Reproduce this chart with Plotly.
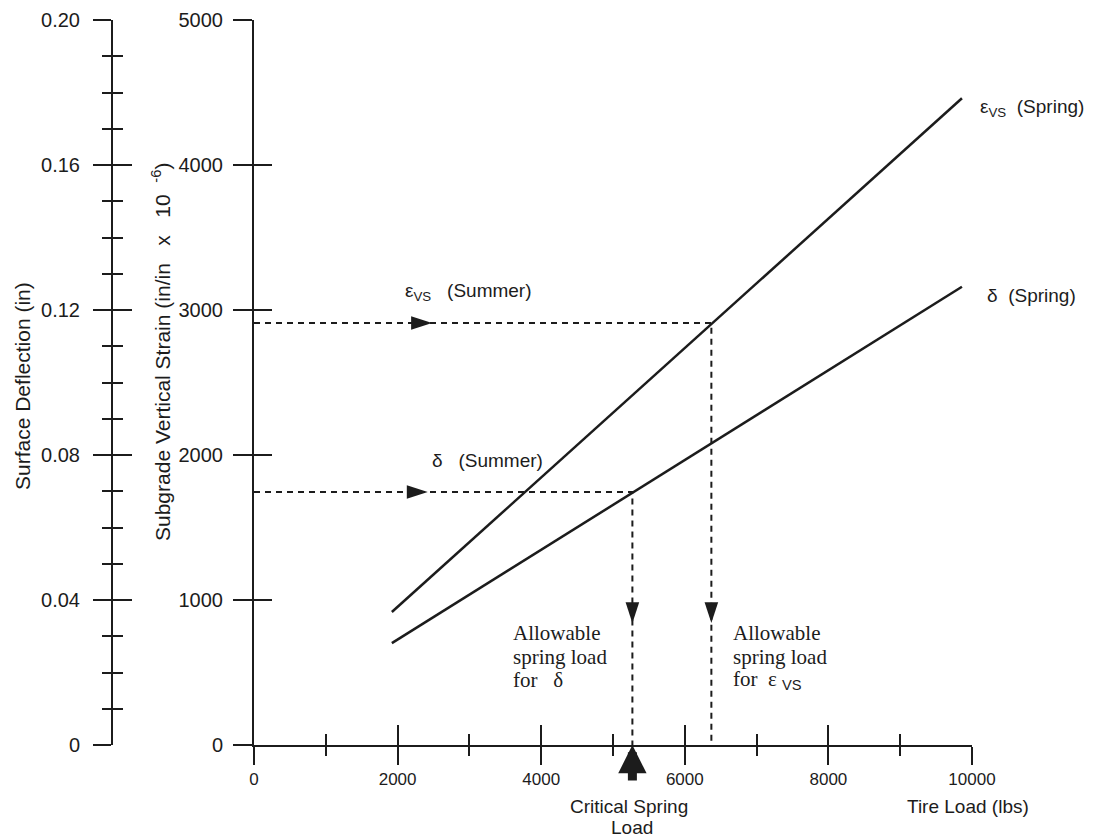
import plotly.graph_objects as go

W, H = 1099, 839
INK = "#1c1c1c"
SANS = "Liberation Sans, Arial, sans-serif"
SERIF = "Liberation Serif, Times New Roman, serif"

# ---------------- data ----------------
load_range = [0, 10000]            # Tire load (lbs)
strain_range = [0, 5000]           # in/in x 1e-6
deflection_range = [0, 0.20]       # in

load_ticks = [0, 2000, 4000, 6000, 8000, 10000]
load_minor_ticks = [1000, 3000, 5000, 7000, 9000]
strain_ticks = [0, 1000, 2000, 3000, 4000, 5000]
defl_ticks = [0, 0.04, 0.08, 0.12, 0.16, 0.20]
defl_tick_text = ["0", "0.04", "0.08", "0.12", "0.16", "0.20"]
defl_minor_ticks = [0.01, 0.02, 0.03, 0.05, 0.06, 0.07, 0.09, 0.10, 0.11,
                    0.13, 0.14, 0.15, 0.17, 0.18, 0.19]

spring_load = [1920, 9860]             # ends of the spring lines (lbs)
strain_spring = [917, 4460]            # eps_vs (Spring)
deflection_spring = [0.0281, 0.1264]   # delta (Spring)

strain_summer = 2910                   # eps_vs (Summer)
deflection_summer = 0.0698             # delta (Summer)
allow_load_strain = 6370               # allowable spring load for eps_vs
allow_load_deflection = 5270           # allowable spring load for delta
critical_load = 5270                   # critical spring load

arrow_load_strain = 2480               # arrowheads along the summer lines
arrow_load_deflection = 2420
arrow_down_strain = 841                # arrowheads on the vertical drops
arrow_down_deflection = 0.0336

# ---------------- geometry (layout only) ----------------
X0, X1 = 254, 972      # pixel columns of load 0 and 10000
YB, YT = 745, 20       # pixel rows of strain 0 and 5000
xdom = [X0 / W, X1 / W]
ydom = [(H - YB) / H, (H - YT) / H]
DEFL_AXIS_X = 112 / W

fig = go.Figure()

line_style = dict(color=INK, width=2.5)
dash_style = dict(color=INK, width=2, dash="6px,5px")

# spring lines
fig.add_trace(go.Scatter(x=spring_load, y=strain_spring, mode="lines",
                         line=line_style, xaxis="x", yaxis="y"))
fig.add_trace(go.Scatter(x=spring_load, y=deflection_spring, mode="lines",
                         line=line_style, xaxis="x", yaxis="y3"))

# dashed summer lines and drops
fig.add_trace(go.Scatter(x=[0, allow_load_strain, allow_load_strain],
                         y=[strain_summer, strain_summer, 0], mode="lines",
                         line=dash_style, xaxis="x", yaxis="y"))
fig.add_trace(go.Scatter(x=[0, allow_load_deflection, allow_load_deflection],
                         y=[deflection_summer, deflection_summer, 0], mode="lines",
                         line=dash_style, xaxis="x", yaxis="y3"))

# arrowheads
arrow_marker = dict(symbol="arrow", size=22, color=INK, line=dict(width=0))
fig.add_trace(go.Scatter(x=[arrow_load_strain], y=[strain_summer], mode="markers",
                         marker=dict(arrow_marker, angle=90), xaxis="x", yaxis="y"))
fig.add_trace(go.Scatter(x=[allow_load_strain], y=[arrow_down_strain], mode="markers",
                         marker=dict(arrow_marker, angle=180), xaxis="x", yaxis="y"))
fig.add_trace(go.Scatter(x=[arrow_load_deflection], y=[deflection_summer], mode="markers",
                         marker=dict(arrow_marker, angle=90), xaxis="x", yaxis="y3"))
fig.add_trace(go.Scatter(x=[allow_load_deflection], y=[arrow_down_deflection], mode="markers",
                         marker=dict(arrow_marker, angle=180), xaxis="x", yaxis="y3"))

# empty traces to activate the overlay axes used for inner tick halves
fig.add_trace(go.Scatter(x=[None], y=[None], xaxis="x2", yaxis="y"))
fig.add_trace(go.Scatter(x=[None], y=[None], xaxis="x", yaxis="y2"))
fig.add_trace(go.Scatter(x=[None], y=[None], xaxis="x", yaxis="y4"))

common = dict(showgrid=False, zeroline=False, linecolor=INK, tickcolor=INK,
              tickwidth=2, automargin=False)

fig.update_layout(
    template="none",
    width=W, height=H,
    margin=dict(l=0, r=0, t=0, b=0, pad=0, autoexpand=False),
    paper_bgcolor="white", plot_bgcolor="rgba(0,0,0,0)",
    showlegend=False,
    xaxis=dict(common, range=load_range, domain=xdom, anchor="y",
               showline=True, linewidth=2,
               tickmode="array", tickvals=load_ticks,
               ticktext=[str(v) for v in load_ticks],
               ticks="outside", ticklen=18, ticklabelstandoff=0,
               tickfont=dict(family=SANS, size=17, color=INK),
               minor=dict(tickmode="array", tickvals=load_minor_ticks,
                          ticks="outside", ticklen=9, tickwidth=2, tickcolor=INK)),
    xaxis2=dict(common, range=load_range, domain=xdom, overlaying="x", anchor="y",
                side="bottom", showline=False, tickmode="array",
                tickvals=load_ticks[1:], ticks="inside", ticklen=20,
                showticklabels=False,
                minor=dict(tickmode="array", tickvals=load_minor_ticks,
                           ticks="inside", ticklen=11, tickwidth=2, tickcolor=INK)),
    yaxis=dict(common, range=strain_range, domain=ydom, anchor="x",
               showline=True, linewidth=2,
               tickmode="array", tickvals=strain_ticks,
               ticktext=[str(v) for v in strain_ticks],
               ticks="outside", ticklen=19, ticklabelstandoff=6,
               tickfont=dict(family=SANS, size=20, color=INK)),
    yaxis2=dict(common, range=strain_range, domain=ydom, overlaying="y", anchor="x",
                side="left", showline=False, tickmode="array",
                tickvals=strain_ticks[1:], ticks="inside", ticklen=18,
                showticklabels=False),
    yaxis3=dict(common, range=deflection_range, domain=ydom, overlaying="y",
                anchor="free", position=DEFL_AXIS_X, side="left",
                showline=True, linewidth=2,
                tickmode="array", tickvals=defl_ticks, ticktext=defl_tick_text,
                ticks="outside", ticklen=18, ticklabelstandoff=9,
                tickfont=dict(family=SANS, size=20, color=INK),
                minor=dict(tickmode="array", tickvals=defl_minor_ticks,
                           ticks="outside", ticklen=9, tickwidth=2, tickcolor=INK)),
    yaxis4=dict(common, range=deflection_range, domain=ydom, overlaying="y",
                anchor="free", position=DEFL_AXIS_X, side="left",
                showline=False, tickmode="array", tickvals=defl_ticks,
                ticks="inside", ticklen=19, showticklabels=False,
                minor=dict(tickmode="array", tickvals=defl_minor_ticks,
                           ticks="inside", ticklen=10, tickwidth=2, tickcolor=INK)),
)


def ann(text, px, py, size=19, family=SANS, xanchor="left", angle=0):
    return dict(text=text, x=px / W, y=1 - py / H, xref="paper", yref="paper",
                showarrow=False, xanchor=xanchor, yanchor="middle",
                textangle=angle, font=dict(size=size, family=family, color=INK))


NB = "\u00a0"
sub_vs = "<sub>VS</sub>"
sub_vs_sans = "<sub><span style='font-family:Liberation Sans'>VS</span></sub>"

annotations = [
    ann("Surface Deflection (in)", 22, 386, size=21, xanchor="center", angle=-90),
    ann("Subgrade Vertical Strain (in/in" + NB * 3 + "x" + NB * 3 + "10" + NB * 2
        + "<sup>-6</sup>)", 161, 352, size=21, xanchor="center", angle=-90),
    ann("ε" + sub_vs + NB * 3 + "(Summer)", 403, 292),
    ann("δ" + NB * 3 + "(Summer)", 430, 460),
    ann("ε" + sub_vs + NB * 2 + "(Spring)", 978, 108),
    ann("δ" + NB * 2 + "(Spring)", 985, 295),
    ann("Allowable", 511, 633, size=21, family=SERIF),
    ann("spring load", 511, 657, size=21, family=SERIF),
    ann("for" + NB * 3 + "δ", 511, 680, size=21, family=SERIF),
    ann("Allowable", 731, 633, size=21, family=SERIF),
    ann("spring load", 731, 657, size=21, family=SERIF),
    ann("for" + NB * 2 + "ε" + NB + sub_vs_sans, 731, 680, size=21, family=SERIF),
    ann("Critical Spring", 629, 806, xanchor="center"),
    ann("Load", 632, 827, xanchor="center"),
    ann("Tire Load (lbs)", 968, 806, xanchor="center"),
    # big upward arrow marking the critical spring load on the load axis
    dict(x=critical_load, y=0, xref="x", yref="y", text="", showarrow=True,
         ax=0, ay=37, arrowhead=2, arrowwidth=9, arrowsize=0.63,
         arrowcolor=INK, standoff=0),
]
fig.update_layout(annotations=annotations)

fig.write_html("out.html")
